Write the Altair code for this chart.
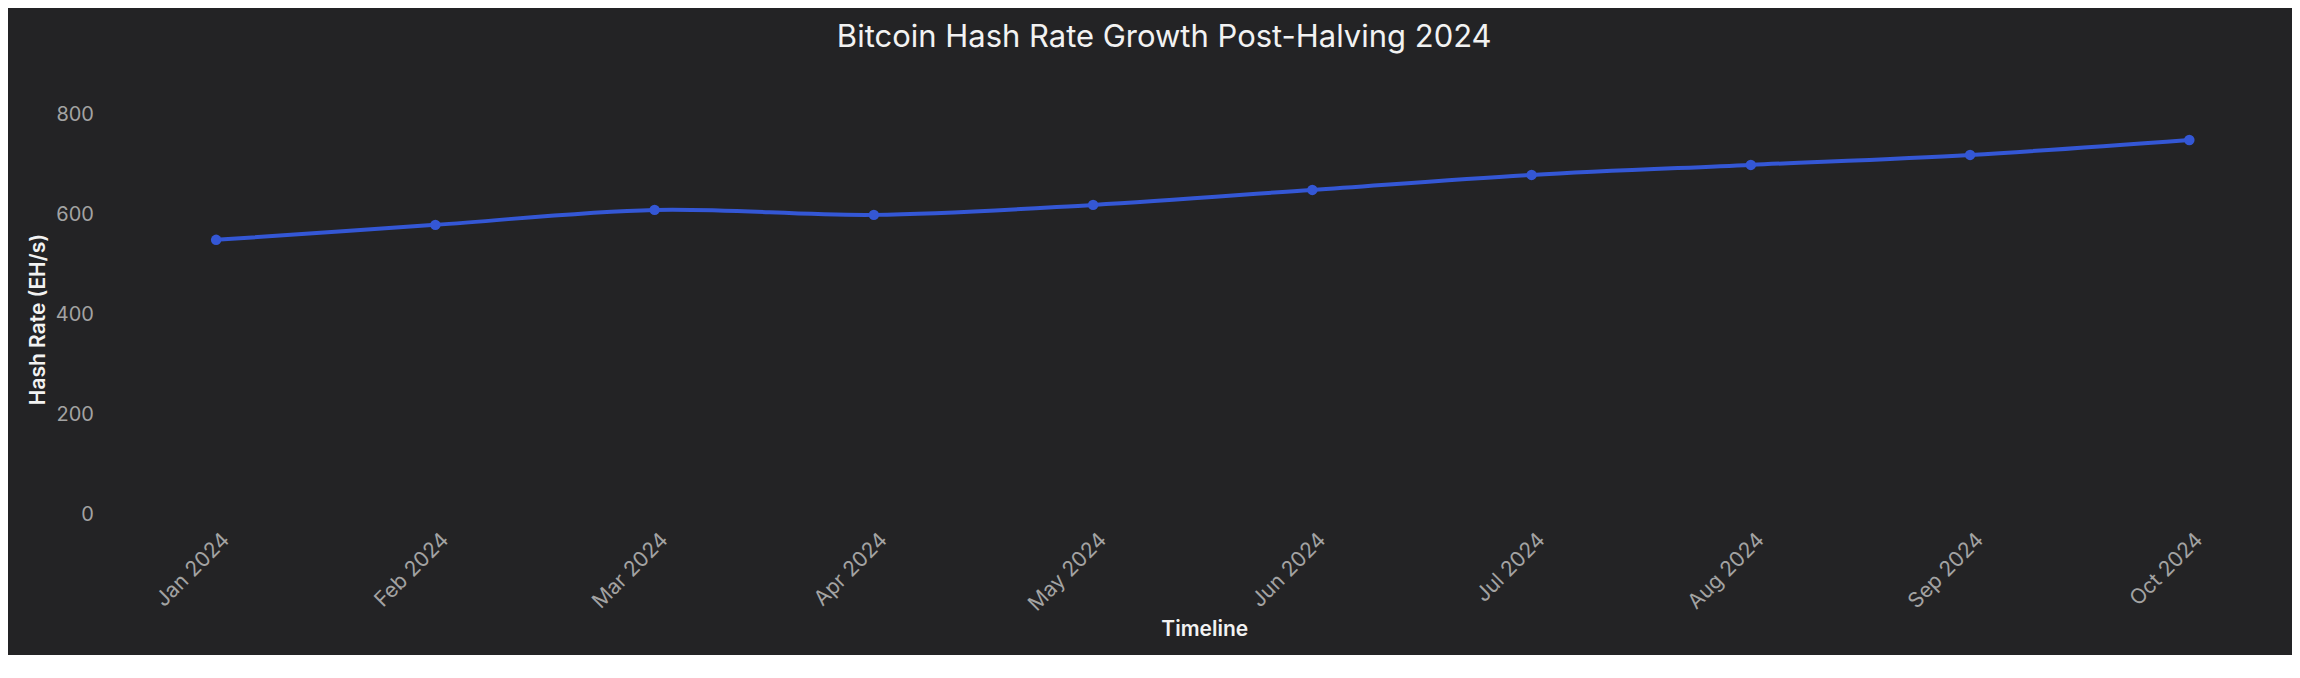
import altair as alt
import pandas as pd

months = ["Jan 2024", "Feb 2024", "Mar 2024", "Apr 2024", "May 2024",
          "Jun 2024", "Jul 2024", "Aug 2024", "Sep 2024", "Oct 2024"]
hash_rate = [550, 580, 610, 600, 620, 650, 680, 700, 720, 750]
y_ticks = [0, 200, 400, 600, 800]

df = pd.DataFrame({"Month": months, "HashRate": hash_rate})

BG = "#232325"
LINE = "#3457d5"
FONT = "Inter"

x_enc = alt.X(
    "Month:O",
    sort=months,
    scale=alt.Scale(type="point", padding=0.4),
    axis=alt.Axis(
        title="Timeline",
        labelAngle=-45,
        labelAlign="right",
        labelBaseline="top",
        labelOffset=2,
        labelPadding=14,
        labelOverlap=False,
        labelFont=FONT,
        labelFontSize=21,
        labelColor="#a3a3a3",
        titleFont=FONT,
        titleFontSize=21,
        titleFontWeight=600,
        titleColor="#f2f2f2",
        titleX=1076.5,
        titleY=121,
        titleAlign="center",
        titleBaseline="alphabetic",
        domain=False,
        ticks=False,
        tickSize=0,
        grid=False,
    ),
)

y_enc = alt.Y(
    "HashRate:Q",
    scale=alt.Scale(domain=[0, 800], nice=False, zero=True),
    axis=alt.Axis(
        title="Hash Rate (EH/s)",
        values=y_ticks,
        labelPadding=35,
        labelFont=FONT,
        labelFontSize=20,
        labelColor="#a3a3a3",
        titleFont=FONT,
        titleFontSize=21,
        titleFontWeight=600,
        titleColor="#f2f2f2",
        titleAngle=-90,
        titleX=-83.5,
        titleY=290,
        titleAlign="left",
        titleBaseline="alphabetic",
        domain=False,
        ticks=False,
        tickSize=0,
        grid=False,
    ),
)

line = alt.Chart(df).mark_line(
    color=LINE, strokeWidth=4, interpolate="cardinal"
).encode(x=x_enc, y=y_enc)

points = alt.Chart(df).mark_point(
    filled=True, color=LINE, size=110, opacity=1
).encode(x=x_enc, y=y_enc)

chart = (
    alt.layer(line, points)
    .properties(
        width=2150,
        height=400,
        background=BG,
        padding={"left": 120.5, "top": 106.8, "right": 15, "bottom": 140},
        autosize=alt.AutoSizeParams(type="none"),
        title=alt.TitleParams(
            text="Bitcoin Hash Rate Growth Post-Halving 2024",
            font=FONT,
            fontSize=31,
            fontWeight="normal",
            color="#f2f2f2",
            anchor="middle",
            frame="group",
            baseline="alphabetic",
            offset=27,
            dx=-38.5,
        ),
    )
    .configure_view(strokeWidth=0)
)

chart.save("out.html", embed_options={"renderer": "svg", "actions": False})
